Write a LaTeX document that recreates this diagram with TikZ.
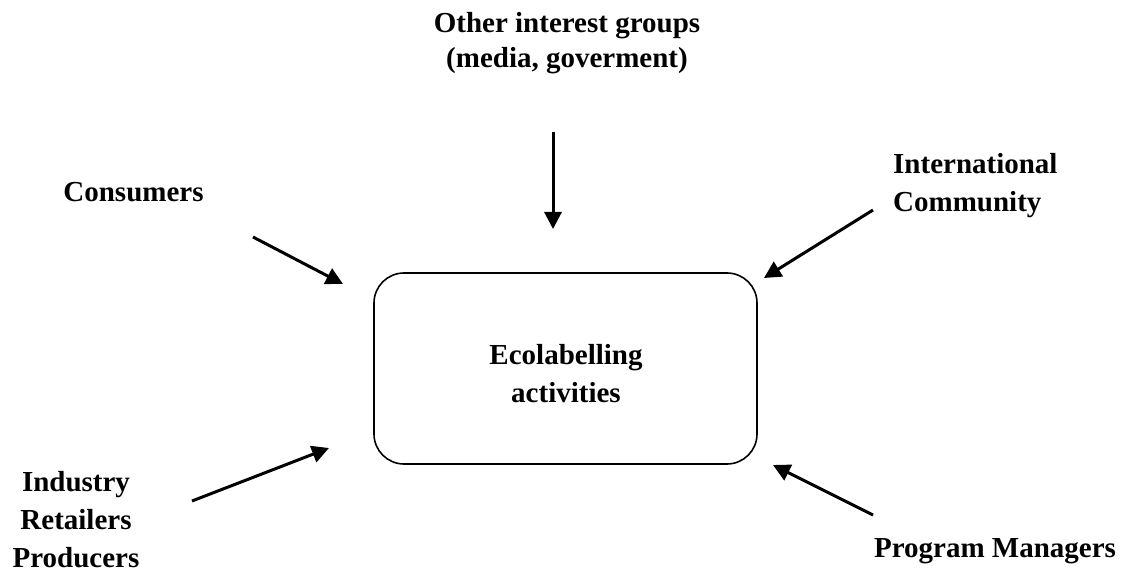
\documentclass[tikz,border=0pt]{standalone}
\usepackage{fontspec}
\setmainfont{Liberation Serif}
\usetikzlibrary{arrows.meta}
\begin{document}
\begin{tikzpicture}[x=1pt,y=-1pt,
  lbl/.style={font=\bfseries\fontsize{29}{38}\selectfont, inner sep=0pt, align=center},
  ecobox/.style={draw, line width=1.6pt, rounded corners=30pt, minimum width=383pt, minimum height=191pt, inner sep=0pt},
  arr/.style={line width=3pt, -{Triangle[length=17pt,width=17pt]}}]
\useasboundingbox (0,0) rectangle (1133,572);
\node[lbl, font=\bfseries\fontsize{29}{35}\selectfont, anchor=base] (other) at (567,68) {Other interest groups\\(media, goverment)};
\node[lbl, anchor=base] (cons) at (133.5,202) {Consumers};
\node[lbl, align=left, anchor=base west] (intl) at (893,212) {International\\Community};
\node[lbl, anchor=base] (ind) at (76,567) {Industry\\Retailers\\Producers};
\node[lbl, anchor=base] (prog) at (995,557) {Program Managers};
\node[ecobox] (eco) at (565.5,368.5) {};
\node[lbl, anchor=base] (ecotxt) at (566,402) {Ecolabelling\\activities};
\coordinate (t1) at (553,132); \coordinate (h1) at (553,229);
\coordinate (t2) at (253,237); \coordinate (h2) at (343,284);
\coordinate (t3) at (873,210); \coordinate (h3) at (764,278);
\coordinate (t4) at (192,501); \coordinate (h4) at (329,448);
\coordinate (t5) at (873,515); \coordinate (h5) at (773,465);
\draw[arr] (t1) -- (h1);
\draw[arr] (t2) -- (h2);
\draw[arr] (t3) -- (h3);
\draw[arr] (t4) -- (h4);
\draw[arr] (t5) -- (h5);
\end{tikzpicture}
\end{document}
